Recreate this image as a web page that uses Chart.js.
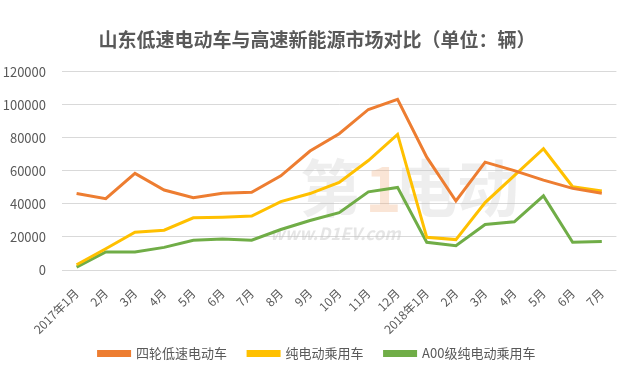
<!DOCTYPE html>
<html>
<head>
<meta charset="utf-8">
<script src="https://cdn.jsdelivr.net/npm/chart.js@4/dist/chart.umd.min.js"></script>
<style>
  html, body { margin: 0; padding: 0; background: #fff; }
  #wrap { width: 620px; height: 381px; position: relative; }
</style>
</head>
<body>
<div id="wrap"><canvas id="c" width="620" height="381"></canvas></div>
<script>
const categories = ["2017年1月","2月","3月","4月","5月","6月","7月","8月","9月","10月","11月","12月","2018年1月","2月","3月","4月","5月","6月","7月"];
const lowSpeedEV = [46300, 43200, 58500, 48400, 43800, 46500, 47000, 57000, 72000, 82500, 97200, 103300, 68300, 41800, 65300, 60200, 54400, 49400, 46500];
const pureEVPassenger = [3200, 12900, 22900, 24100, 31600, 32000, 32700, 41400, 46300, 53000, 66300, 82100, 19800, 18400, 40800, 57100, 73400, 50400, 47900];
const a00PureEV = [1700, 10900, 10900, 13700, 18000, 18800, 18000, 24500, 30000, 34700, 47300, 50000, 16800, 14700, 27600, 29200, 44900, 16800, 17200];
const yTicks = [0, 20000, 40000, 60000, 80000, 100000, 120000];
const seriesNames = ["四轮低速电动车", "纯电动乘用车", "A00级纯电动乘用车"];
const titleText = "山东低速电动车与高速新能源市场对比（单位：辆）";

const FONT = "'Noto Sans CJK SC', 'Noto Sans', sans-serif";
const TXT = "#595959";

const noLabelClip = {
  id: 'noLabelClip',
  beforeDraw(chart) {
    Object.values(chart.scales).forEach(s => { s._computeLabelArea = () => undefined; });
  }
};

const watermark = {
  id: 'watermark',
  beforeDatasetsDraw(chart) {
    const ctx = chart.ctx;
    ctx.save();
    ctx.font = "bold 62px " + FONT;
    ctx.textBaseline = "alphabetic";
    ctx.fillStyle = "rgba(200,200,200,0.3)";
    ctx.fillText("第", 300, 212);
    ctx.fillStyle = "rgba(240,170,120,0.3)";
    ctx.fillText("1", 365, 212);
    ctx.fillStyle = "rgba(200,200,200,0.3)";
    ctx.fillText("电动", 395, 212);
    ctx.font = "italic bold 17px " + FONT;
    ctx.fillStyle = "rgba(190,190,190,0.4)";
    ctx.fillText("www.D1EV.com", 270, 240);
    ctx.restore();
  }
};

const mk = (label, data, color) => ({
  label, data,
  borderColor: color, backgroundColor: color,
  borderWidth: 3, pointRadius: 0, pointHoverRadius: 0,
  tension: 0, fill: false
});

new Chart(document.getElementById('c'), {
  type: 'line',
  data: {
    labels: categories,
    datasets: [
      mk(seriesNames[0], lowSpeedEV, '#ED7D31'),
      mk(seriesNames[1], pureEVPassenger, '#FFC000'),
      mk(seriesNames[2], a00PureEV, '#70AD47')
    ]
  },
  options: {
    responsive: false,
    animation: false,
    devicePixelRatio: 1,
    layout: { padding: { left: 14, right: 0, top: 0, bottom: 11 } },
    plugins: {
      title: {
        display: true, text: titleText, color: TXT,
        font: { family: FONT, size: 19, weight: 'bold' },
        padding: { top: 28, bottom: 21 }
      },
      legend: {
        position: 'bottom',
        labels: {
          color: TXT, font: { family: FONT, size: 13 },
          boxWidth: 31, boxHeight: 4, padding: 21
        }
      },
      tooltip: { enabled: false }
    },
    scales: {
      x: {
        offset: true,
        grid: { display: false },
        border: { display: false },
        ticks: {
          color: TXT, font: { family: FONT, size: 12 },
          minRotation: 45, maxRotation: 45, autoSkip: false, padding: 8
        },
        afterFit: (s) => { s.height = 56; }
      },
      y: {
        min: 0, max: 120000,
        afterBuildTicks: (s) => { s.ticks = yTicks.map(v => ({ value: v })); },
        grid: { color: '#D9D9D9', lineWidth: 1, drawTicks: false },
        border: { display: false },
        ticks: { color: TXT, font: { family: FONT, size: 13 }, padding: 16,
                 callback: (v) => String(v) },
        afterFit: (s) => { s.width = 48; }
      }
    }
  },
  plugins: [noLabelClip, watermark]
});
</script>
</body>
</html>
